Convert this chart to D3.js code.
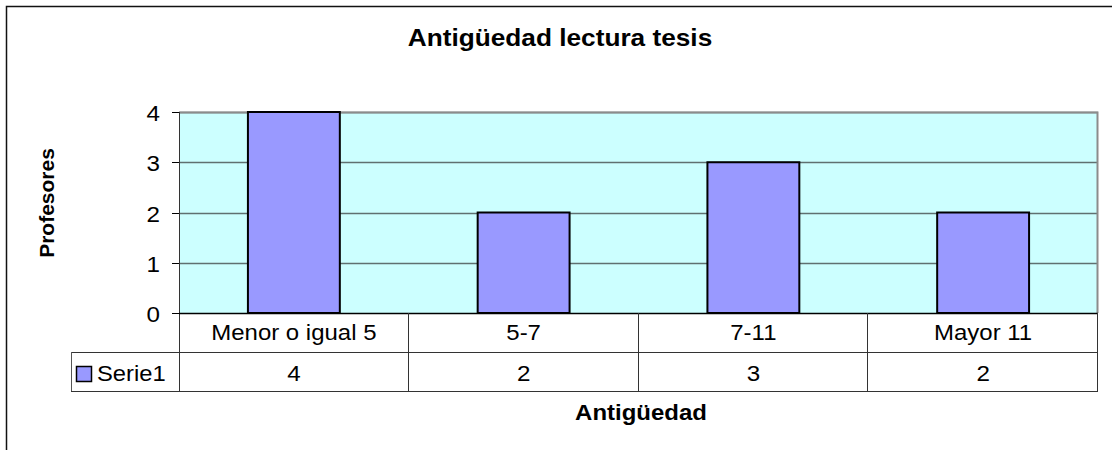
<!DOCTYPE html>
<html>
<head>
<meta charset="utf-8">
<script src="https://cdn.jsdelivr.net/npm/d3@7"></script>
<style>
    body { margin: 0; background: #fff; }
    svg { display: block; font-family: Arial, 'Liberation Sans', sans-serif; }
</style>
</head>
<body>
<div id="chart"></div>
<script>
var categories = ['Menor o igual 5', '5-7', '7-11', 'Mayor 11'],
    values = [4, 2, 3, 2],
    yTicks = [0, 1, 2, 3, 4],
    seriesName = 'Serie1',
    title = 'Antigüedad lectura tesis',
    xTitle = 'Antigüedad',
    yTitle = 'Profesores';

var width = 1112,
    height = 450,
    plot = {left: 179, right: 1098, top: 112, bottom: 313},
    rowH = 39,
    legendLeft = 71;

var svg = d3.select('#chart').append('svg')
    .attr('width', width)
    .attr('height', height);

var x = d3.scaleBand()
        .domain(categories)
        .range([plot.left, plot.right])
        .padding(0),
    y = d3.scaleLinear()
        .domain([0, 4])
        .range([plot.bottom, plot.top]);

// text a bit stretched sideways, like the source picture
var label = function(g, txt, px, py, size, weight, anchor, stretch) {
    return g.append('text')
        .attr('transform', 'translate(' + px + ',' + py + ') scale(' + stretch + ',1)')
        .attr('text-anchor', anchor || 'middle')
        .style('font-size', size + 'px')
        .style('font-weight', weight || 'normal')
        .attr('fill', '#000')
        .text(txt);
};

// outer frame (only top and left visible)
svg.append('path')
    .attr('d', 'M6.5,450V6.5H' + width)
    .attr('fill', 'none')
    .attr('stroke', '#111')
    .attr('stroke-width', 1.5);

// plot area
svg.append('rect')
    .attr('x', plot.left)
    .attr('y', plot.top)
    .attr('width', plot.right - plot.left)
    .attr('height', plot.bottom - plot.top)
    .attr('fill', '#ccffff');

svg.append('g').selectAll('line')
    .data(yTicks.slice(1))
    .enter()
    .append('line')
    .attr('x1', plot.left)
    .attr('x2', plot.right)
    .attr('y1', function(d) { return Math.round(y(d)) + 0.5; })
    .attr('y2', function(d) { return Math.round(y(d)) + 0.5; })
    .attr('stroke', '#5f7070')
    .attr('stroke-width', 1.5);

svg.append('path')
    .attr('d', 'M' + plot.left + ',' + (plot.top + 0.5) + 'H' + (plot.right - 0.5) + 'V' + plot.bottom)
    .attr('fill', 'none')
    .attr('stroke', '#8c8c8c')
    .attr('stroke-width', 2);

// bars
var barW = x.bandwidth() * 0.4;
svg.append('g').selectAll('rect')
    .data(values)
    .enter()
    .append('rect')
    .attr('x', function(d, i) { return x(categories[i]) + (x.bandwidth() - barW) / 2; })
    .attr('y', function(d) { return y(d); })
    .attr('width', barW)
    .attr('height', function(d) { return y(0) - y(d); })
    .attr('fill', '#9999ff')
    .attr('stroke', '#000')
    .attr('stroke-width', 2);

// y axis
var yAxis = svg.append('g');
yAxis.append('line')
    .attr('x1', plot.left + 0.5).attr('x2', plot.left + 0.5)
    .attr('y1', plot.top).attr('y2', plot.bottom + 2 * rowH)
    .attr('stroke', '#333');
yAxis.selectAll('.tick')
    .data(yTicks)
    .enter()
    .append('line')
    .attr('class', 'tick')
    .attr('x1', plot.left - 7).attr('x2', plot.left)
    .attr('y1', function(d) { return Math.round(y(d)) + 0.5; })
    .attr('y2', function(d) { return Math.round(y(d)) + 0.5; })
    .attr('stroke', '#000');
yTicks.forEach(function(d) {
    label(yAxis, d, 160, y(d) + 9, 22, 'normal', 'end', 1.1);
});

// data table
var table = svg.append('g'),
    r1 = plot.bottom,
    r2 = plot.bottom + rowH,
    r3 = plot.bottom + 2 * rowH;

table.append('line')
    .attr('x1', plot.left).attr('x2', plot.right)
    .attr('y1', r1 + 0.5).attr('y2', r1 + 0.5)
    .attr('stroke', '#000').attr('stroke-width', 1.5);
[r2, r3].forEach(function(r) {
    table.append('line')
        .attr('x1', legendLeft).attr('x2', plot.right)
        .attr('y1', r + 0.5).attr('y2', r + 0.5)
        .attr('stroke', '#333');
});
table.append('line')
    .attr('x1', legendLeft + 0.5).attr('x2', legendLeft + 0.5)
    .attr('y1', r2).attr('y2', r3)
    .attr('stroke', '#555');
categories.forEach(function(c, i) {
    var x1 = x(c) + x.bandwidth();
    table.append('line')
        .attr('x1', Math.round(x1) - 0.5).attr('x2', Math.round(x1) - 0.5)
        .attr('y1', r1).attr('y2', r3)
        .attr('stroke', '#333');
    label(table, c, x(c) + x.bandwidth() / 2, r1 + 27, 22, 'normal', 'middle', 1.09);
    label(table, values[i], x(c) + x.bandwidth() / 2, r2 + 29, 22, 'normal', 'middle', 1.1);
});

// legend key inside the table
table.append('rect')
    .attr('x', legendLeft + 5.5)
    .attr('y', r2 + 14.5)
    .attr('width', 15)
    .attr('height', 15)
    .attr('fill', '#9999ff')
    .attr('stroke', '#000')
    .attr('stroke-width', 1.5);
label(table, seriesName, legendLeft + 26, r2 + 29, 22, 'normal', 'start', 1.08);

// titles
label(svg, title, 560, 46, 23, 'bold', 'middle', 1.14);
label(svg, xTitle, 641, 420, 22, 'bold', 'middle', 1.09);
svg.append('text')
    .attr('transform', 'translate(54,203) rotate(-90)')
    .attr('text-anchor', 'middle')
    .style('font-size', '21px')
    .style('font-weight', 'bold')
    .text(yTitle);
</script>
</body>
</html>
